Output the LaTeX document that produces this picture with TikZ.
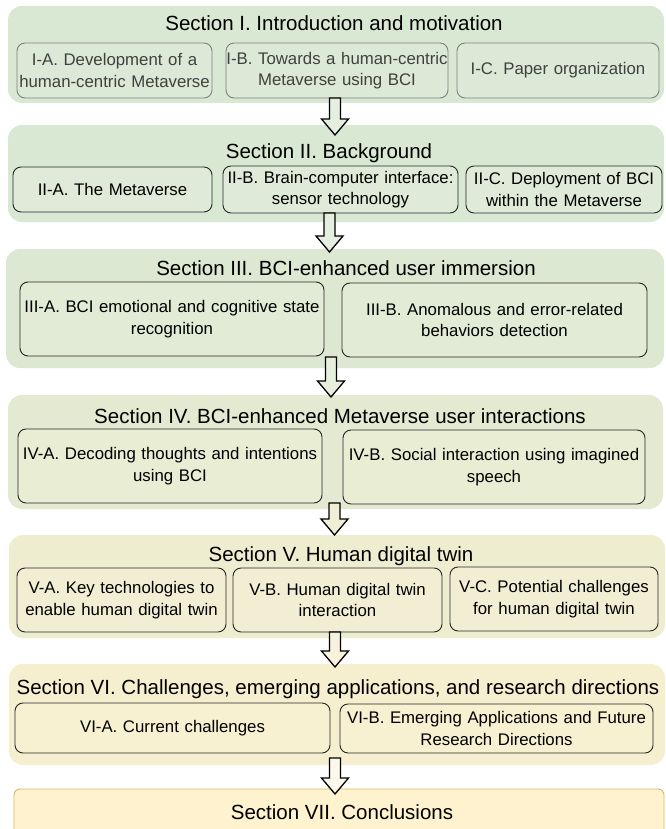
\documentclass[tikz,border=0pt]{standalone}
\usepackage{fontspec}
\setmainfont{Liberation Sans}
\definecolor{bgI}{HTML}{D8E8D3}
\definecolor{sbI}{HTML}{DBE9D6}
\definecolor{bgII}{HTML}{D9E8D3}
\definecolor{sbII}{HTML}{DFEAD8}
\definecolor{bgIII}{HTML}{DCE8D2}
\definecolor{sbIII}{HTML}{E2EBD5}
\definecolor{bgIV}{HTML}{E3EAD1}
\definecolor{sbIV}{HTML}{E8EDD4}
\definecolor{bgV}{HTML}{EFEDD0}
\definecolor{sbV}{HTML}{F1EED3}
\definecolor{bgVI}{HTML}{F5EECF}
\definecolor{sbVI}{HTML}{F7F0D1}
\definecolor{bgVII}{HTML}{FEF2CF}
\definecolor{brVII}{HTML}{D9B862}
\definecolor{grayline}{HTML}{7F7F7F}
\definecolor{graytext}{HTML}{404040}
\definecolor{lineblk}{HTML}{262626}
\definecolor{arI}{HTML}{E4EFE0}
\definecolor{arII}{HTML}{E4EFE0}
\definecolor{arIII}{HTML}{E7EEDB}
\definecolor{arIV}{HTML}{EEEFD6}
\definecolor{arV}{HTML}{F6F2DC}
\definecolor{arVI}{HTML}{FCF8EA}
\newcommand\mkbox[7]{%
  \pgfmathsetmacro\bxw{#5-#3}%
  \pgfmathsetmacro\bxh{#6-#4}%
  \pgfmathsetmacro\bxt{#5-#3+2}%
  \pgfmathsetmacro\bxcx{(#3+#5)/2}%
  \pgfmathsetmacro\bxcy{(#4+#6)/2}%
  \node[#2, minimum width=\bxw pt, minimum height=\bxh pt, text width=\bxt pt] (#1) at (\bxcx,\bxcy) {#7};}
\newcommand\mksec[6]{%
  \pgfmathsetmacro\bxw{#5-#3}%
  \pgfmathsetmacro\bxh{#6-#4}%
  \pgfmathsetmacro\bxcx{(#3+#5)/2}%
  \pgfmathsetmacro\bxcy{(#4+#6)/2}%
  \node[#2, minimum width=\bxw pt, minimum height=\bxh pt] (#1) at (\bxcx,\bxcy) {};}
\newcommand\blkarrow[5]{%
  \coordinate (#1) at (#2,#3);
  \pgfmathsetmacro\shl{#4-#3-16}%
  \draw[blockarrow, fill=#5] (#1) ++(-5.5,0) -- ++(11,0) -- ++(0,\shl) -- ++(8,0) -- ++(-13.5,16) -- ++(-13.5,-16) -- ++(8,0) -- cycle;}
\begin{document}
\begin{tikzpicture}[x=1pt,y=-1pt,
  secbg/.style={rectangle, rounded corners=14pt, draw=none, inner sep=0pt},
  subbox/.style={rectangle, rounded corners=8pt, draw=lineblk, line width=0.9pt, inner xsep=-1pt, inner ysep=0pt, align=center,
     font=\fontsize{16.8}{21.5}\selectfont},
  subgray/.style={subbox, draw=grayline, text=graytext},
  sectitle/.style={anchor=base, inner sep=0pt, font=\fontsize{20.5}{24}\selectfont},
  blockarrow/.style={draw=black, line width=1.3pt, line join=miter}]
\useasboundingbox (0,0) rectangle (665,829);
\fill[white] (0,0) rectangle (665,829);
% Section I
\mksec{s1}{secbg, fill=bgI}{8}{6}{664}{103}
\node[sectitle] (t1) at (334,31) {Section I. Introduction and motivation};
\mkbox{s1a}{subgray, fill=sbI}{17}{43}{212}{98}{I-A. Development of a\\human-centric Metaverse}
\mkbox{s1b}{subgray, fill=sbI}{226}{43}{448}{98}{I-B. Towards a human-centric\\Metaverse using BCI}
\mkbox{s1c}{subgray, fill=sbI}{457}{43}{659}{98}{I-C. Paper organization}
% Section II
\mksec{s2}{secbg, fill=bgII}{8}{125}{664}{222}
\node[sectitle] (t2) at (329,159) {Section II. Background};
\mkbox{s2a}{subbox, fill=sbII}{13}{167}{212}{212}{II-A. The Metaverse}
\mkbox{s2b}{subbox, fill=sbII}{223}{166}{458}{213}{II-B. Brain-computer interface:\\sensor technology}
\mkbox{s2c}{subbox, fill=sbII}{466}{166}{662}{213}{II-C. Deployment of BCI\\within the Metaverse}
% Section III
\mksec{s3}{secbg, fill=bgIII}{6}{249}{664}{368}
\node[sectitle] (t3) at (346,275) {Section III. BCI-enhanced user immersion};
\mkbox{s3a}{subbox, fill=sbIII}{20}{282}{324}{356}{III-A. BCI emotional and cognitive state\\recognition}
\mkbox{s3b}{subbox, fill=sbIII}{342}{283}{647}{357}{III-B. Anomalous and error-related\\behaviors detection}
% Section IV
\mksec{s4}{secbg, fill=bgIV}{8}{395}{663}{509}
\node[sectitle] (t4) at (340,423) {Section IV. BCI-enhanced Metaverse user interactions};
\mkbox{s4a}{subbox, fill=sbIV}{18}{429}{322}{503}{IV-A. Decoding thoughts and intentions\\using BCI}
\mkbox{s4b}{subbox, fill=sbIV}{343}{430}{645}{504}{IV-B. Social interaction using imagined\\speech}
% Section V
\mksec{s5}{secbg, fill=bgV}{9}{535}{665}{638}
\node[sectitle] (t5) at (341,561) {Section V. Human digital twin};
\mkbox{s5a}{subbox, fill=sbV}{17}{568}{226}{632}{V-A. Key technologies to\\enable human digital twin}
\mkbox{s5b}{subbox, fill=sbV}{233}{568}{442}{632}{V-B. Human digital twin\\interaction}
\mkbox{s5c}{subbox, fill=sbV}{450}{567}{658}{631}{V-C. Potential challenges\\for human digital twin}
% Section VI
\mksec{s6}{secbg, fill=bgVI}{9}{664}{665}{765}
\node[sectitle] (t6) at (338,694) {Section VI. Challenges, emerging applications, and research directions};
\mkbox{s6a}{subbox, fill=sbVI}{15}{703}{330}{753}{VI-A. Current challenges}
\mkbox{s6b}{subbox, fill=sbVI}{340}{704}{653}{753}{VI-B. Emerging Applications and Future\\Research Directions}
% Section VII
\mksec{s7}{secbg, rounded corners=6pt, fill=bgVII, draw=brVII, line width=0.9pt}{14}{789}{664}{860}
\node[sectitle] (t7) at (342,819) {Section VII. Conclusions};
% Arrows
\blkarrow{a1}{335}{98}{135}{arI}
\blkarrow{a2}{329.5}{213}{252}{arII}
\blkarrow{a3}{331}{357}{397}{arIII}
\blkarrow{a4}{334.5}{503}{535}{arIV}
\blkarrow{a5}{335}{632}{667}{arV}
\blkarrow{a6}{335}{758}{794}{arVI}
\end{tikzpicture}
\end{document}
